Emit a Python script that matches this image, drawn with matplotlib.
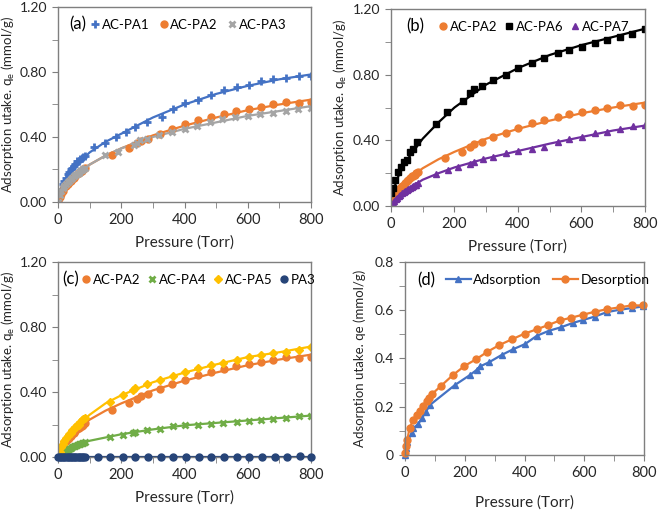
import numpy as np
import matplotlib.pyplot as plt
from matplotlib.ticker import MultipleLocator, FormatStrFormatter

plt.rcParams['font.family'] = ['Lato', 'DejaVu Sans']

BLUE = '#4472C4'
ORANGE = '#ED7D31'
GRAY = '#A5A5A5'
BLACK = '#000000'
PURPLE = '#7030A0'
GREEN = '#70AD47'
YELLOW = '#FFC000'
NAVY = '#264478'

# ---- measured points ----
p_low = [0, 5, 10, 15, 20, 25, 30, 35, 40, 45, 50, 55, 60, 65, 70, 75, 80, 85]

# AC-PA1
pa1_p = p_low + [115, 150, 183, 214, 243, 280, 328, 363, 400, 444, 484, 526, 566, 603, 643, 680, 722, 761, 800]
pa1_q = [0, 0.04, 0.08, 0.11, 0.13, 0.15, 0.17, 0.185, 0.2, 0.21, 0.22, 0.235, 0.25, 0.255, 0.265, 0.27, 0.275, 0.28,
         0.34, 0.36, 0.40, 0.43, 0.46, 0.49, 0.52, 0.57, 0.61, 0.63, 0.66, 0.69, 0.71, 0.72, 0.745, 0.755, 0.765, 0.775, 0.775]

# AC-PA2
pa2_p = p_low + [170, 223, 249, 261, 286, 322, 362, 401, 443, 483, 525, 562, 603, 643, 681, 721, 761, 800]
pa2_q = [0, 0.03, 0.05, 0.07, 0.09, 0.10, 0.11, 0.12, 0.13, 0.14, 0.15, 0.16, 0.17, 0.18, 0.185, 0.19, 0.20, 0.21,
         0.29, 0.33, 0.36, 0.375, 0.39, 0.42, 0.447, 0.477, 0.503, 0.524, 0.544, 0.558, 0.575, 0.585, 0.60, 0.615, 0.61, 0.615]

# AC-PA3
pa3_p = p_low + [150, 190, 240, 250, 260, 280, 320, 360, 400, 440, 480, 520, 560, 600, 640, 680, 720, 760, 800]
pa3_q = [0, 0.04, 0.07, 0.085, 0.10, 0.11, 0.12, 0.13, 0.14, 0.15, 0.16, 0.165, 0.17, 0.18, 0.19, 0.195, 0.20, 0.21,
         0.29, 0.31, 0.35, 0.36, 0.38, 0.39, 0.41, 0.43, 0.45, 0.47, 0.49, 0.51, 0.52, 0.53, 0.54, 0.55, 0.56, 0.57, 0.58]

# AC-PA6
pa6_p = [0, 1, 6, 14, 22, 32, 41, 50, 60, 69, 83, 143, 177, 228, 249, 261, 286, 322, 362, 401, 443, 483, 525, 562,
         603, 643, 681, 721, 758, 800]
pa6_q = [0.0, 0.08, 0.11, 0.16, 0.21, 0.24, 0.27, 0.28, 0.33, 0.35, 0.39, 0.50, 0.57, 0.64, 0.69, 0.71, 0.73, 0.77,
         0.80, 0.84, 0.87, 0.90, 0.93, 0.95, 0.97, 0.995, 1.01, 1.03, 1.05, 1.08]

# AC-PA7
pa7_p = p_low + [142, 180, 210, 250, 260, 290, 322, 362, 401, 443, 483, 525, 562, 603, 643, 681, 721, 763, 800]
pa7_q = [0, 0.02, 0.03, 0.04, 0.05, 0.06, 0.07, 0.08, 0.085, 0.09, 0.10, 0.105, 0.11, 0.115, 0.12, 0.125, 0.13, 0.14,
         0.195, 0.22, 0.235, 0.255, 0.265, 0.284, 0.30, 0.32, 0.337, 0.35, 0.36, 0.39, 0.406, 0.42, 0.443, 0.453,
         0.467, 0.487, 0.495]

# AC-PA4
pa4_p = p_low + [164, 204, 236, 243, 280, 322, 363, 402, 444, 484, 523, 566, 603, 643, 680, 722, 761, 800]
pa4_q = [0, 0.01, 0.02, 0.03, 0.035, 0.04, 0.045, 0.05, 0.055, 0.06, 0.065, 0.07, 0.075, 0.078, 0.082, 0.085, 0.088, 0.09,
         0.124, 0.138, 0.15, 0.155, 0.165, 0.175, 0.19, 0.196, 0.20, 0.206, 0.21, 0.216, 0.222, 0.23, 0.237, 0.243,
         0.251, 0.251]

# AC-PA5
pa5_p = p_low + [164, 204, 236, 243, 280, 322, 363, 402, 444, 484, 523, 566, 603, 643, 680, 722, 761, 800]
pa5_q = [0, 0.03, 0.06, 0.08, 0.10, 0.115, 0.13, 0.14, 0.15, 0.165, 0.175, 0.185, 0.195, 0.20, 0.215, 0.225, 0.235, 0.24,
         0.34, 0.38, 0.41, 0.422, 0.449, 0.473, 0.498, 0.525, 0.545, 0.566, 0.576, 0.597, 0.618, 0.628, 0.638, 0.648,
         0.66, 0.68]

# PA3
pa3b_p = p_low + [125, 165, 205, 245, 285, 325, 365, 405, 445, 485, 525, 565, 605, 645, 685, 725, 765, 800]
pa3b_q = [0.0] * 18 + [0.0] * 16 + [0.005, 0.0]

# (d) adsorption / desorption
ads_p = [0, 3, 8, 22, 28, 45, 56, 70, 84, 167, 218, 240, 251, 282, 324, 363, 402, 441, 482, 521, 561, 597, 636,
         675, 718, 759, 798]
ads_q = [0, 0.03, 0.055, 0.09, 0.11, 0.13, 0.152, 0.18, 0.208, 0.29, 0.332, 0.353, 0.367, 0.385, 0.415, 0.439, 0.46,
         0.494, 0.515, 0.529, 0.547, 0.56, 0.574, 0.592, 0.602, 0.609, 0.616]
des_p = [798, 759, 718, 675, 636, 597, 556, 519, 480, 441, 400, 357, 316, 276, 238, 199, 160, 120, 89, 81, 73, 61,
         50, 39, 28, 15, 8, 3, 0]
des_q = [0.62, 0.62, 0.612, 0.604, 0.594, 0.582, 0.569, 0.558, 0.539, 0.521, 0.503, 0.479, 0.456, 0.428, 0.397, 0.369,
         0.331, 0.286, 0.251, 0.237, 0.222, 0.202, 0.182, 0.167, 0.146, 0.112, 0.064, 0.038, 0.008]

# ---- fitted curves ----
fit_p = [0, 5, 10, 25, 50, 100, 150, 200, 300, 400, 500, 600, 700, 800]
fit_pa1 = [0, 0.055, 0.085, 0.145, 0.21, 0.305, 0.37, 0.42, 0.52, 0.60, 0.665, 0.715, 0.755, 0.785]
fit_pa2 = [0, 0.03, 0.05, 0.10, 0.155, 0.23, 0.285, 0.33, 0.41, 0.47, 0.52, 0.565, 0.60, 0.63]
fit_pa3 = [0, 0.04, 0.06, 0.105, 0.16, 0.23, 0.285, 0.33, 0.40, 0.45, 0.49, 0.53, 0.56, 0.59]
fit_pa6 = [0, 0.07, 0.11, 0.19, 0.28, 0.41, 0.51, 0.60, 0.74, 0.84, 0.92, 0.98, 1.03, 1.08]
fit_pa7 = [0, 0.02, 0.03, 0.06, 0.10, 0.16, 0.20, 0.235, 0.29, 0.335, 0.38, 0.42, 0.46, 0.49]
fit_pa4 = [0, 0.01, 0.02, 0.04, 0.065, 0.10, 0.12, 0.14, 0.17, 0.195, 0.21, 0.225, 0.24, 0.255]
fit_pa5 = [0, 0.035, 0.06, 0.11, 0.17, 0.26, 0.33, 0.38, 0.46, 0.52, 0.57, 0.615, 0.645, 0.68]
fit_pa3b = [0] * 14

fig = plt.figure(figsize=(6.63, 5.15), dpi=100)
ax_a = fig.add_axes([0.0875, 0.6078, 0.3816, 0.3786])
ax_b = fig.add_axes([0.5897, 0.6000, 0.3831, 0.3825])
ax_c = fig.add_axes([0.0875, 0.1126, 0.3816, 0.3786])
ax_d = fig.add_axes([0.6109, 0.1165, 0.3605, 0.3748])


def style(ax, ymax, ymaj, ymin, fmt, ylabel, ylx, xpad=6):
    ax.set_xlim(0, 800)
    ax.set_ylim(0, ymax)
    ax.xaxis.set_major_locator(MultipleLocator(200))
    ax.xaxis.set_minor_locator(MultipleLocator(100))
    ax.yaxis.set_major_locator(MultipleLocator(ymaj))
    ax.yaxis.set_minor_locator(MultipleLocator(ymin))
    ax.yaxis.set_major_formatter(FormatStrFormatter(fmt))
    for s in ax.spines.values():
        s.set_color('#7F7F7F')
        s.set_linewidth(1.0)
    ax.tick_params(which='both', direction='out', color='#7F7F7F', labelsize=10.5, labelcolor='#262626')
    ax.tick_params(axis='y', labelsize=10)
    ax.tick_params(which='major', length=4, pad=4)
    ax.tick_params(which='minor', length=4)
    ax.set_xlabel('Pressure (Torr)', fontsize=11, color='#262626', labelpad=xpad)
    ax.set_ylabel(ylabel, fontsize=9.5, color='#262626')
    ax.yaxis.set_label_coords(ylx, 0.5)


ylab = 'Adsorption utake. q$_\\mathregular{e}$ (mmol/g)'

# (a)
ax_a.plot(fit_p, fit_pa1, color=BLUE, lw=1.6)
ax_a.plot(fit_p, fit_pa2, color=ORANGE, lw=1.6)
ax_a.plot(fit_p, fit_pa3, color=GRAY, lw=1.6)
ax_a.plot(pa1_p, pa1_q, '+', color=BLUE, ms=5.5, mew=2, label='AC-PA1')
ax_a.plot(pa2_p, pa2_q, 'o', color=ORANGE, ms=5, label='AC-PA2')
ax_a.plot(pa3_p, pa3_q, 'x', color=GRAY, ms=4.5, mew=2, label='AC-PA3')
style(ax_a, 1.2, 0.4, 0.2, '%.2f', ylab, -0.162)
ax_a.text(0.045, 0.91, '(a)', transform=ax_a.transAxes, fontsize=12, va='center')
ax_a.legend(loc='center left', bbox_to_anchor=(0.13, 0.91), ncol=3, frameon=False, fontsize=9.5,
            handlelength=0.6, handletextpad=0.2, columnspacing=0.8, borderaxespad=0, borderpad=0)

# (b)
ax_b.plot(fit_p, fit_pa2, color=ORANGE, lw=1.6)
ax_b.plot(fit_p, fit_pa6, color=BLACK, lw=1.6)
ax_b.plot(fit_p, fit_pa7, color=PURPLE, lw=1.6)
ax_b.plot(pa2_p, pa2_q, 'o', color=ORANGE, ms=5, label='AC-PA2')
ax_b.plot(pa6_p, pa6_q, 's', color=BLACK, ms=5, label='AC-PA6')
ax_b.plot(pa7_p, pa7_q, '^', color=PURPLE, ms=5, label='AC-PA7')
style(ax_b, 1.2, 0.4, 0.2, '%.2f', ylab, -0.165)
ax_b.text(0.06, 0.91, '(b)', transform=ax_b.transAxes, fontsize=12, va='center')
ax_b.legend(loc='center left', bbox_to_anchor=(0.19, 0.91), ncol=3, frameon=False, fontsize=9.5,
            handlelength=0.6, handletextpad=0.2, columnspacing=0.6, borderaxespad=0, borderpad=0)

# (c)
ax_c.plot(fit_p, fit_pa2, color=ORANGE, lw=1.6)
ax_c.plot(fit_p, fit_pa4, color=GREEN, lw=1.6)
ax_c.plot(fit_p, fit_pa5, color=YELLOW, lw=1.6)
ax_c.plot(fit_p, fit_pa3b, color=NAVY, lw=1.6)
ax_c.plot(pa2_p, pa2_q, 'o', color=ORANGE, ms=5, label='AC-PA2')
ax_c.plot(pa4_p, pa4_q, 'x', color=GREEN, ms=5, mew=2, label='AC-PA4')
ax_c.plot(pa5_p, pa5_q, 'D', color=YELLOW, ms=4, label='AC-PA5')
ax_c.plot(pa3b_p, pa3b_q, 'o', color=NAVY, ms=5, label='PA3', clip_on=False, zorder=5)
style(ax_c, 1.2, 0.4, 0.2, '%.2f', ylab, -0.162)
ax_c.text(0.015, 0.91, '(c)', transform=ax_c.transAxes, fontsize=12, va='center')
ax_c.legend(loc='center left', bbox_to_anchor=(0.095, 0.91), ncol=4, frameon=False, fontsize=9.5,
            handlelength=0.6, handletextpad=0.2, columnspacing=0.6, borderaxespad=0, borderpad=0)

# (d)
ax_d.plot(ads_p, ads_q, '-^', color=BLUE, ms=5, lw=1.6, label='Adsorption', clip_on=False)
ax_d.plot(des_p, des_q, '-o', color=ORANGE, ms=5, lw=1.6, label='Desorption', clip_on=False)
style(ax_d, 0.8, 0.2, 0.1, '%g', 'Adsorption utake. qe (mmol/g)', -0.165, xpad=11)
ax_d.text(0.05, 0.905, '(d)', transform=ax_d.transAxes, fontsize=12, va='center')
ax_d.legend(loc='center left', bbox_to_anchor=(0.17, 0.905), ncol=2, frameon=False, fontsize=10,
            handlelength=1.8, handletextpad=0.2, columnspacing=0.8, borderaxespad=0, borderpad=0)

fig.savefig('out.png', dpi=100)
